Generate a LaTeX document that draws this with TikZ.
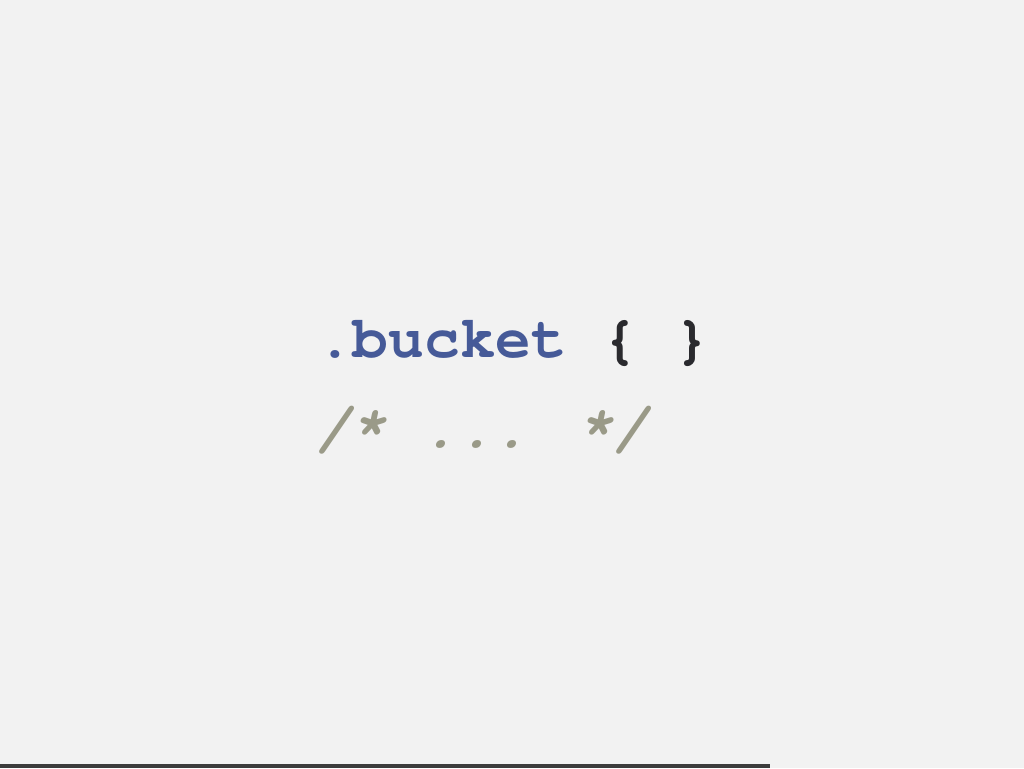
\documentclass[tikz,border=0pt]{standalone}
\usepackage{fontspec}
\newfontfamily\codefont{TeX Gyre Cursor}
\definecolor{bg}{HTML}{F2F2F2}
\definecolor{selcol}{HTML}{465A98}
\definecolor{bracecol}{HTML}{2A2A2E}
\definecolor{cmtcol}{HTML}{9A9A88}
\definecolor{barcol}{HTML}{3C3C3C}
\tikzset{
  codeline/.style={anchor=base west, inner sep=0pt, font=\codefont\bfseries\fontsize{59.5}{70}\selectfont},
}
\begin{document}
\begin{tikzpicture}[x=1pt,y=1pt]
\useasboundingbox (0,0) rectangle (1024,768);
\fill[bg] (0,0) rectangle (1024,768);
\fill[barcol] (0,0) rectangle (770,4);
\node[codeline] (sel) at (317,410) {\textcolor{selcol}{.bucket} \textcolor{bracecol}{\{ \}}};
\node[codeline, text=cmtcol] (cmt) at (315,320) {\itshape /* ... */};
\end{tikzpicture}
\end{document}
